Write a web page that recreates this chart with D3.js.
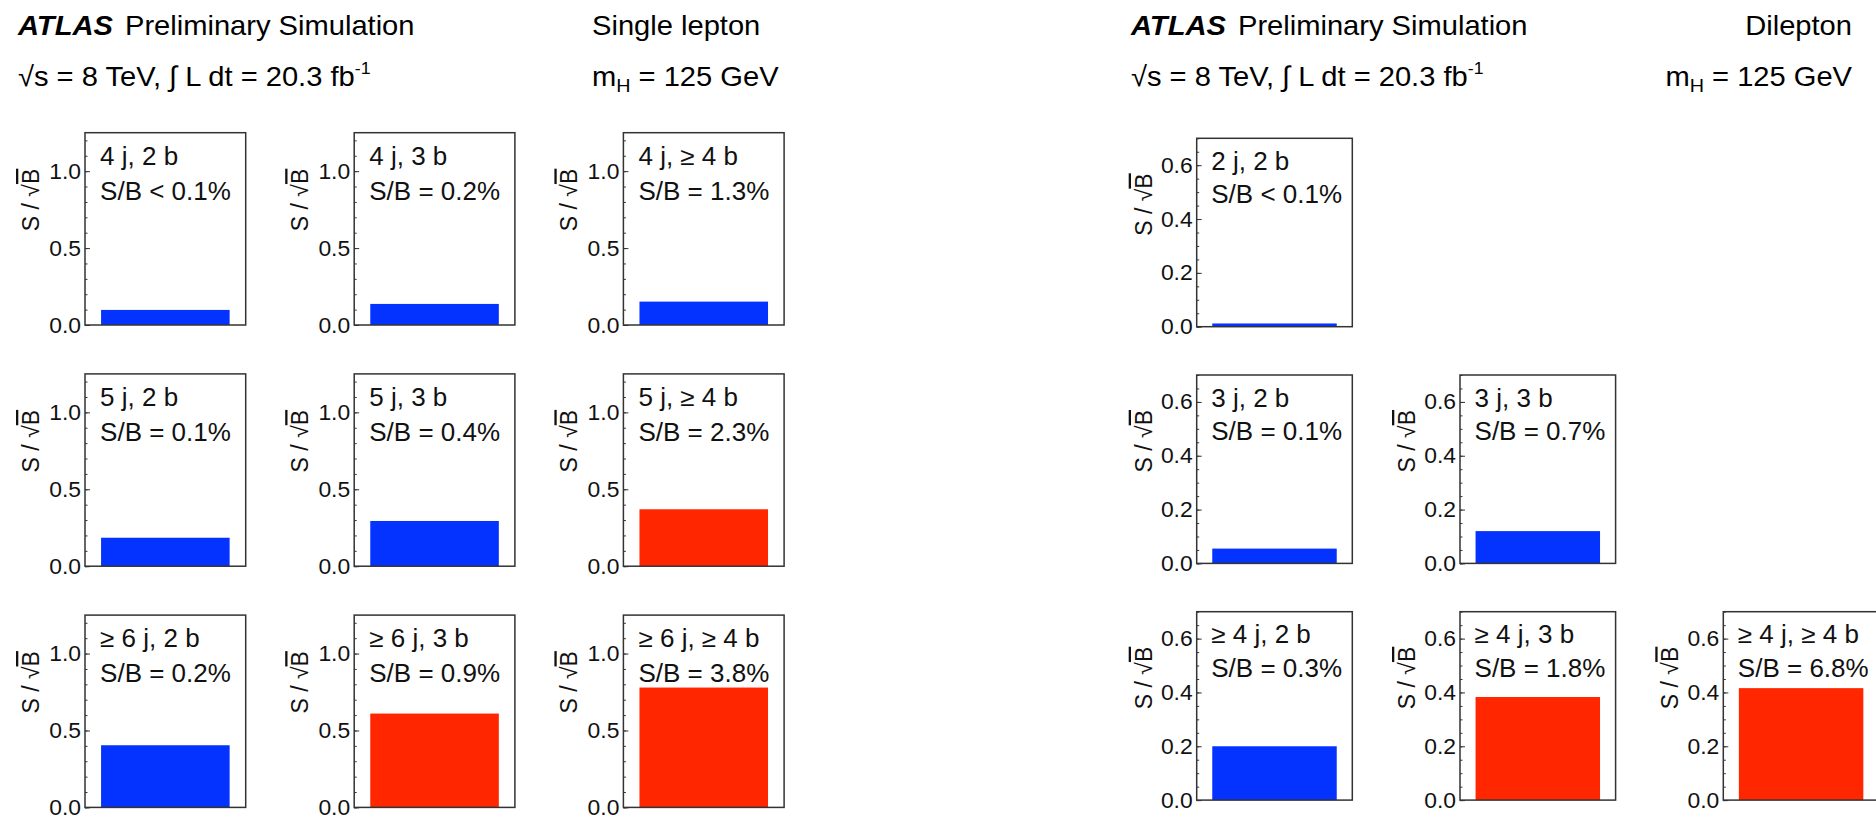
<!DOCTYPE html>
<html>
<head>
<meta charset="utf-8">
<script src="https://cdn.jsdelivr.net/npm/d3@7"></script>
<style>
  body { margin: 0; background: #fff; }
  svg { display: block; font-family: "Liberation Sans", Arial, Helvetica, sans-serif; }
</style>
</head>
<body>
<svg id="chart" width="1876" height="817"></svg>
<script>
// ---- single lepton channel (3 x 3 regions) ----
const slJets = ['4 j', '5 j', '\u2265 6 j'];
const slTags = ['2 b', '3 b', '\u2265 4 b'];
const slSignificance = [
  [0.098, 0.137, 0.152],
  [0.185, 0.294, 0.370],
  [0.404, 0.610, 0.779]
];
const slSoverB = [
  ['< 0.1%', '= 0.2%', '= 1.3%'],
  ['= 0.1%', '= 0.4%', '= 2.3%'],
  ['= 0.2%', '= 0.9%', '= 3.8%']
];
const slSignalRich = [
  [false, false, false],
  [false, false, true],
  [false, true, true]
];
const slMajorTicks = [0, 0.5, 1.0];

// ---- dilepton channel (empty cells are null) ----
const dlJets = ['2 j', '3 j', '\u2265 4 j'];
const dlTags = ['2 b', '3 b', '\u2265 4 b'];
const dlSignificance = [
  [0.012, null, null],
  [0.055, 0.120, null],
  [0.200, 0.383, 0.416]
];
const dlSoverB = [
  ['< 0.1%', null, null],
  ['= 0.1%', '= 0.7%', null],
  ['= 0.3%', '= 1.8%', '= 6.8%']
];
const dlSignalRich = [
  [false, null, null],
  [false, false, null],
  [false, true, true]
];
const dlMajorTicks = [0, 0.2, 0.4, 0.6];

const svg = d3.select('#chart');
const SX = 1.04;   // text is a touch wider than plain Helvetica
const color = d3.scaleOrdinal().domain([false, true]).range(['#0433ff', '#ff2600']);

function stretched(sel, x, y, sx) {
  return sel.attr('transform', `translate(${x},${y}) scale(${sx || SX},1)`);
}

function drawChannel(cfg) {
  const y = d3.scaleLinear().domain([0, cfg.yMax]).range([cfg.h, 0]);
  const minor = d3.range(0, cfg.yMax + 1e-9, cfg.minorStep);

  cfg.jets.forEach((jet, r) => {
    cfg.tags.forEach((tag, c) => {
      const val = cfg.values[r][c];
      if (val === null) return;
      const left = cfg.x0 + c * cfg.dx, top = cfg.y0 + r * cfg.dy;
      const label = `${jet}, ${tag}`;
      const x = d3.scaleBand().domain([label]).range([0, cfg.w])
        .paddingInner(0.2).paddingOuter(0.1);

      const g = svg.append('g').attr('transform', `translate(${left},${top})`);

      g.append('rect')
        .attr('x', x(label))
        .attr('y', y(val))
        .attr('width', x.bandwidth())
        .attr('height', cfg.h - y(val))
        .attr('fill', color(cfg.rich[r][c]));

      // minor ticks
      g.append('g')
        .call(d3.axisLeft(y).tickValues(minor).tickSize(-2.5).tickFormat(''))
        .call(a => a.select('.domain').remove())
        .selectAll('line').attr('stroke', '#333');

      // major ticks + labels
      const ax = g.append('g')
        .call(d3.axisLeft(y).tickValues(cfg.major).tickSize(-5).tickPadding(3)
          .tickFormat(d3.format('.1f')))
        .call(a => a.select('.domain').remove());
      ax.selectAll('line').attr('stroke', '#333');
      ax.selectAll('text')
        .attr('font-size', cfg.tickFont)
        .attr('font-family', '"Liberation Sans", Arial, sans-serif')
        .attr('fill', '#111')
        .attr('transform', `scale(${SX},1)`)
        .attr('x', -4 / SX);

      // frame
      g.append('rect')
        .attr('width', cfg.w).attr('height', cfg.h)
        .attr('fill', 'none').attr('stroke', '#333').attr('stroke-width', 1.5);

      // y title
      const yt = g.append('text')
        .attr('text-anchor', 'end')
        .attr('font-size', cfg.titleFont)
        .attr('fill', '#111')
        .attr('transform', `translate(${cfg.titleX},${cfg.titleY}) rotate(-90)`);
      yt.append('tspan').text('S / \u221A');
      yt.append('tspan').attr('text-decoration', 'overline').text('B');

      // region labels
      stretched(g.append('text'), x(label) - 1, cfg.line1)
        .attr('font-size', cfg.labelFont).attr('fill', '#111').text(label);
      stretched(g.append('text'), x(label) - 1, cfg.line2)
        .attr('font-size', cfg.labelFont).attr('fill', '#111')
        .text(`S/B ${cfg.sob[r][c]}`);
    });
  });
}

drawChannel({
  jets: slJets, tags: slTags, values: slSignificance, sob: slSoverB, rich: slSignalRich,
  major: slMajorTicks, minorStep: 0.1, yMax: 1.25,
  x0: 85, y0: 132.7, dx: 269.2, dy: 241.2, w: 160.7, h: 192.3,
  tickFont: 22, titleFont: 23, labelFont: 25,
  titleX: -46, titleY: 36, line1: 32, line2: 67
});

drawChannel({
  jets: dlJets, tags: dlTags, values: dlSignificance, sob: dlSoverB, rich: dlSignalRich,
  major: dlMajorTicks, minorStep: 0.05, yMax: 0.7,
  x0: 1196.7, y0: 138.3, dx: 263.3, dy: 236.7, w: 155.6, h: 188.4,
  tickFont: 22, titleFont: 23, labelFont: 25,
  titleX: -45, titleY: 35, line1: 31.7, line2: 65
});

// ---- headers ----
function header(x0) {
  stretched(svg.append('text'), x0, 35)
    .attr('font-size', 28).attr('font-weight', 'bold').attr('font-style', 'italic')
    .text('ATLAS');
  stretched(svg.append('text'), x0 + 107, 35)
    .attr('font-size', 28).text('Preliminary Simulation');

  const lumi = stretched(svg.append('text'), x0, 86).attr('font-size', 28);
  lumi.append('tspan').text('\u221As = 8 TeV, \u222B L dt = 20.3 fb');
  lumi.append('tspan').attr('font-size', 17).attr('dy', -12).text('-1');
}

header(18);
header(1131);

stretched(svg.append('text'), 592, 35).attr('font-size', 28).text('Single lepton');
const mhL = stretched(svg.append('text'), 592, 86).attr('font-size', 28);
mhL.append('tspan').text('m');
mhL.append('tspan').attr('font-size', 19).attr('dy', 6).text('H');
mhL.append('tspan').attr('dy', -6).text(' = 125 GeV');

stretched(svg.append('text'), 1852, 35).attr('font-size', 28).attr('text-anchor', 'end').text('Dilepton');
const mhR = stretched(svg.append('text'), 1852, 86).attr('font-size', 28).attr('text-anchor', 'end');
mhR.append('tspan').text('m');
mhR.append('tspan').attr('font-size', 19).attr('dy', 6).text('H');
mhR.append('tspan').attr('dy', -6).text(' = 125 GeV');
</script>
</body>
</html>
